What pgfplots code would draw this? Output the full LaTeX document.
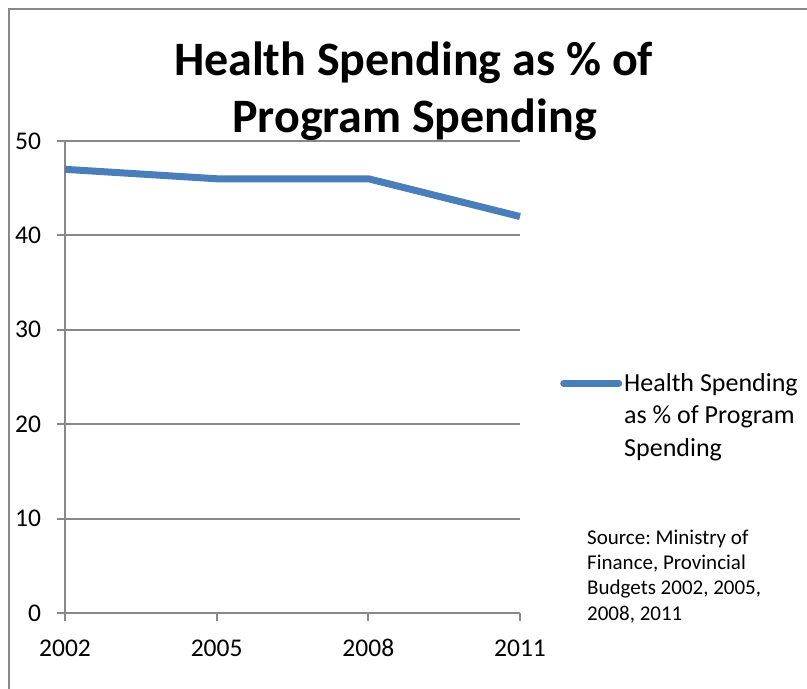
\documentclass[border=0pt]{standalone}
\usepackage{pgfplots}
\pgfplotsset{compat=1.18}
\usepackage{fontspec}
\setmainfont{Carlito}
\frenchspacing
\definecolor{exblue}{HTML}{4A7EBB}
\definecolor{axgray}{HTML}{888888}
\begin{document}
\begin{tikzpicture}[x=1pt,y=1pt]
\path[use as bounding box] (0,0) rectangle (807,689);
\draw[axgray, line width=1.5pt] (9,0) -- (9,680) -- (807,680);
\node[font=\fontsize{48}{57}\selectfont\bfseries, anchor=base] at (413.5,613) {Health Spending as \% of};
\node[font=\fontsize{48}{57}\selectfont\bfseries, anchor=base] at (414.5,556) {Program Spending};
\begin{axis}[at={(65pt,76pt)}, anchor=south west, scale only axis,
  width=455pt, height=472pt,
  xmin=2002, xmax=2011, ymin=0, ymax=50,
  xtick={2002,2005,2008,2011}, xticklabels={2002,2005,2008,2011},
  ytick={0,10,20,30,40,50},
  axis lines=left, axis line style={-, axgray, line width=2pt},
  ymajorgrids, grid style={axgray, line width=2pt},
  tick style={axgray, line width=2pt},
  major tick length=8.5pt, tick align=outside,
  ticklabel style={font=\fontsize{25.5}{30}\selectfont, text=black},
  xticklabel style={anchor=base, yshift=-35pt},
  yticklabel style={xshift=-12pt},
  /pgf/number format/assume math mode=true,
  clip=false,
  legend style={draw=none, fill=none, inner sep=0pt, at={(1.088,0.487)}, anchor=west,
    font=\fontsize{26}{32.5}\selectfont},
  legend image code/.code={\draw[#1, line cap=round] (0pt,0pt) -- (55pt,0pt);},
]
\addplot[exblue, line width=7pt, line join=round] coordinates {(2002,47) (2005,46) (2008,46) (2011,42)};
\addlegendentry{\parbox[t]{185pt}{\raggedright Health Spending\\as \% of Program\\Spending}}
\end{axis}
\begin{scope}[every node/.style={font=\fontsize{21}{25}\selectfont, anchor=base west, inner sep=0pt}]
\node at (587,144) {Source: Ministry of};
\node at (587,119) {Finance, Provincial};
\node at (587,94) {Budgets 2002, 2005,};
\node at (587,68) {2008, 2011};
\end{scope}
\end{tikzpicture}
\end{document}
